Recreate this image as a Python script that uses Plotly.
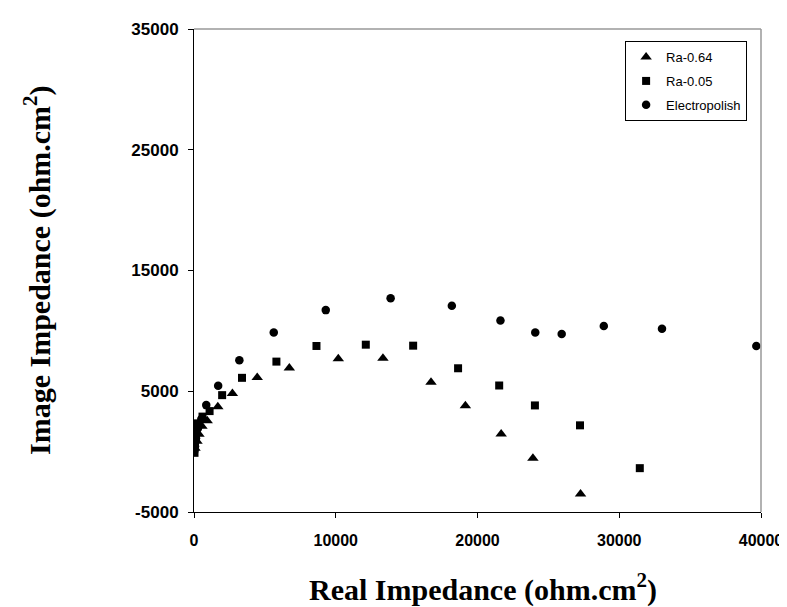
import plotly.graph_objects as go

# Ra-0.64 (triangles)
ra064_x = [70, 210, 350, 560, 930, 1680, 2710, 4460, 6725, 10180, 13330, 16720, 19145, 21670, 23910, 27270]
ra064_y = [280, 850, 1440, 2100, 2565, 3720, 4816, 6136, 6935, 7700, 7730, 5748, 3800, 1460, -544, -3513]

# Ra-0.05 (squares)
ra005_x = [35, 70, 140, 280, 600, 1100, 1985, 3385, 5814, 8640, 12120, 15460, 18630, 21530, 24050, 27230, 31450]
ra005_y = [-100, 690, 1520, 2340, 2900, 3357, 4677, 6111, 7455, 8750, 8857, 8775, 6903, 5476, 3826, 2177, -1369]

# Electropolish (circles)
elec_x = [30, 70, 140, 280, 514, 864, 1705, 3200, 5626, 9296, 13870, 18190, 21620, 24075, 25940, 28910, 33015, 39670]
elec_y = [100, 445, 1100, 1930, 2700, 3851, 5451, 7563, 9873, 11719, 12709, 12073, 10862, 9872, 9740, 10400, 10177, 8750]

x_ticks = [0, 10000, 20000, 30000, 40000]
y_ticks = [-5000, 5000, 15000, 25000, 35000]

fig = go.Figure()
fig.add_trace(go.Scatter(x=ra064_x, y=ra064_y, mode="markers", name="Ra-0.64", legendgroup="a",
                         marker=dict(symbol="triangle-up", size=10, color="black")))
fig.add_trace(go.Scatter(x=ra005_x, y=ra005_y, mode="markers", name="Ra-0.05", legendgroup="b",
                         marker=dict(symbol="square", size=8, color="black")))
fig.add_trace(go.Scatter(x=elec_x, y=elec_y, mode="markers", name="Electropolish", legendgroup="c",
                         marker=dict(symbol="circle", size=8.5, color="black")))

xtickfont = dict(family="Liberation Sans, Arial", size=16, color="black", weight="bold")
ytickfont = dict(family="Liberation Sans, Arial", size=17, color="black", weight="bold")
fig.update_xaxes(range=[0, 40000], tickvals=x_ticks, ticktext=[str(v) for v in x_ticks],
                 showgrid=False, zeroline=False, showline=True, linecolor="black", linewidth=1,
                 ticks="outside", ticklen=5, tickcolor="black", tickfont=xtickfont,
                 ticklabelstandoff=9)
fig.update_yaxes(range=[-5000, 35000], tickvals=y_ticks, ticktext=[str(v) for v in y_ticks],
                 showgrid=False, zeroline=False, showline=True, linecolor="black", linewidth=1,
                 ticks="outside", ticklen=5, tickcolor="black", tickfont=ytickfont,
                 ticklabelstandoff=6)

# gray top/right frame
fig.add_shape(type="line", xref="paper", yref="paper", x0=0, x1=1, y0=1, y1=1,
              line=dict(color="#999999", width=1.5))
fig.add_shape(type="line", xref="paper", yref="paper", x0=1, x1=1, y0=0, y1=1,
              line=dict(color="#999999", width=1.5))

fig.add_annotation(text="<b>Real Impedance (ohm.cm<sup>2</sup>)</b>", xref="paper", yref="paper",
                   x=0.51, y=-0.2, xanchor="center", yanchor="bottom", showarrow=False,
                   font=dict(family="Liberation Serif, Times New Roman", size=30, color="black"))
fig.add_annotation(text="<b>Image Impedance (ohm.cm<sup>2</sup>)</b>", xref="paper", yref="paper",
                   x=-0.276, y=0.5, xanchor="center", yanchor="middle", showarrow=False,
                   textangle=-90,
                   font=dict(family="Liberation Serif, Times New Roman", size=30, color="black"))

fig.update_layout(
    width=787, height=607,
    margin=dict(l=186, r=29, t=19, b=103),
    paper_bgcolor="white", plot_bgcolor="white",
    legend=dict(x=0.9755, y=0.975, xanchor="right", yanchor="top",
                bgcolor="white", bordercolor="black", borderwidth=1,
                font=dict(family="Liberation Sans, Arial", size=13, color="black"),
                tracegroupgap=4, itemwidth=30),
    showlegend=True,
)

fig.write_html("out.html")
